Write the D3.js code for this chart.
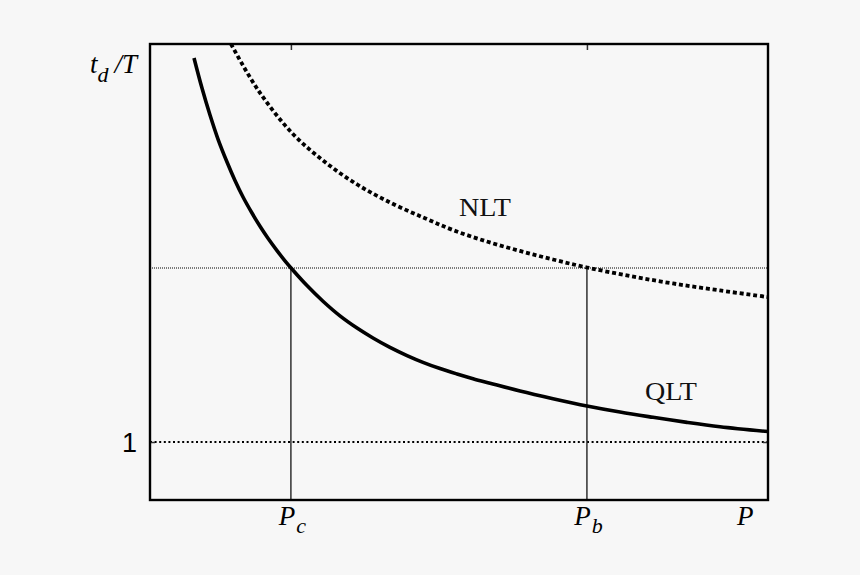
<!DOCTYPE html>
<html><head><meta charset="utf-8">
<script src="https://cdn.jsdelivr.net/npm/d3@7"></script>
<style>
html,body{margin:0;padding:0;background:#f7f7f7;}
svg{display:block;}
</style></head>
<body>
<svg id="chart" width="860" height="575"></svg>
<script>
// ---- data ----
const pQLT = [0.712, 0.841, 0.971, 1.100, 1.246, 1.375, 1.505, 1.650, 1.780, 1.909, 2.055, 2.184, 2.282,
              2.540, 2.799, 3.074, 3.350, 3.608, 3.883, 4.159, 4.417, 4.693, 4.968, 5.227, 5.502,
              5.987, 6.521, 7.071, 7.605, 8.139, 8.689, 9.223, 10.0];
const tQLT = [3.207, 3.034, 2.879, 2.741, 2.609, 2.503, 2.408, 2.316, 2.240, 2.171, 2.100, 2.041, 2.000,
              1.899, 1.809, 1.725, 1.655, 1.598, 1.544, 1.497, 1.458, 1.422, 1.391, 1.364, 1.338,
              1.293, 1.249, 1.207, 1.172, 1.142, 1.113, 1.088, 1.060];
const pNLT = [1.311, 1.748, 2.298, 2.832, 3.366, 3.916, 4.450, 4.903, 5.453, 5.987, 6.521,
              7.071, 7.767, 8.463, 9.223, 10.0];
const tNLT = [3.287, 3.023, 2.776, 2.609, 2.477, 2.371, 2.286, 2.218, 2.152, 2.098, 2.049,
              2.003, 1.954, 1.911, 1.871, 1.833];
const xTicks = [2.28, 7.07];          // P_c, P_b
const xTickSubs = ["c", "b"];
const yTicks = [1];
const yTickLabels = ["1"];
const threshold = 2;
const xDomain = [0, 10];
const yDomain = [0.6667, 3.2874];

// ---- layout ----
const svg = d3.select("#chart");
const L = 150, R = 768, T = 44, B = 500;
const x = d3.scaleLinear().domain(xDomain).range([L, R]);
const y = d3.scaleLinear().domain(yDomain).range([B, T]);

svg.append("rect").attr("width", 860).attr("height", 575).attr("fill", "#f7f7f7");

svg.append("clipPath").attr("id", "clip")
  .append("rect").attr("x", L).attr("y", T).attr("width", R - L).attr("height", B - T);

const plot = svg.append("g").attr("clip-path", "url(#clip)");

// threshold (fine dotted) line
plot.append("line")
  .attr("x1", L).attr("x2", R).attr("y1", y(threshold)).attr("y2", y(threshold))
  .attr("stroke", "#000").attr("stroke-width", 1).attr("stroke-dasharray", "1,1");

// level 1 (coarser dotted) line
plot.append("line")
  .attr("x1", L).attr("x2", R).attr("y1", y(1)).attr("y2", y(1))
  .attr("stroke", "#000").attr("stroke-width", 2).attr("stroke-dasharray", "2,2.6");

// verticals at P_c, P_b
plot.selectAll("line.v").data(xTicks).enter().append("line")
  .attr("class", "v")
  .attr("x1", d => x(d)).attr("x2", d => x(d))
  .attr("y1", y(threshold)).attr("y2", B)
  .attr("stroke", "#222").attr("stroke-width", 1.4);

const line = d3.line().x(d => x(d[0])).y(d => y(d[1])).curve(d3.curveCatmullRom.alpha(0.5));

plot.append("path")
  .datum(pNLT.map((p, i) => [p, tNLT[i]]))
  .attr("d", line).attr("fill", "none")
  .attr("stroke", "#000").attr("stroke-width", 3.8).attr("stroke-dasharray", "4,2.8");

plot.append("path")
  .datum(pQLT.map((p, i) => [p, tQLT[i]]))
  .attr("d", line).attr("fill", "none")
  .attr("stroke", "#000").attr("stroke-width", 3.6);

// axes with inward ticks
const gTop = svg.append("g").attr("transform", `translate(0,${T})`)
  .call(d3.axisTop(x).tickValues(xTicks).tickSizeInner(-6).tickSizeOuter(0).tickFormat(""));
const gBot = svg.append("g").attr("transform", `translate(0,${B})`)
  .call(d3.axisBottom(x).tickValues(xTicks).tickSizeInner(0).tickSizeOuter(0));
const gLeft = svg.append("g").attr("transform", `translate(${L},0)`)
  .call(d3.axisLeft(y).tickValues(yTicks).tickSizeInner(-5).tickSizeOuter(0).tickPadding(14)
    .tickFormat((d, i) => yTickLabels[i]));
const gRight = svg.append("g").attr("transform", `translate(${R},0)`)
  .call(d3.axisRight(y).tickValues(yTicks).tickSizeInner(-5).tickSizeOuter(0).tickFormat(""));

[gTop, gBot, gLeft, gRight].forEach(g => {
  g.select(".domain").remove();
  g.selectAll(".tick line").attr("stroke", "#333").attr("stroke-width", 1.5);
});

gLeft.selectAll(".tick text")
  .attr("font-family", "'Liberation Sans', Arial, sans-serif")
  .attr("font-size", 27).attr("fill", "#000").attr("dy", "0.36em").attr("x", -13);

gBot.selectAll(".tick text").each(function (d, i) {
  const t = d3.select(this);
  t.text(null)
    .attr("font-family", "'Liberation Serif', 'Times New Roman', serif")
    .attr("font-style", "italic").attr("font-size", 27).attr("fill", "#000")
    .attr("text-anchor", "middle").attr("x", 1).attr("y", 25).attr("dy", 0);
  t.append("tspan").text("P");
  t.append("tspan").attr("font-size", 22).attr("dx", 1).attr("dy", 8).text(xTickSubs[i]);
});

// frame
svg.append("rect").attr("x", L).attr("y", T).attr("width", R - L).attr("height", B - T)
  .attr("fill", "none").attr("stroke", "#000").attr("stroke-width", 2.4);

// axis titles
svg.append("text").attr("x", 737).attr("y", 525)
  .attr("font-family", "'Liberation Serif', 'Times New Roman', serif")
  .attr("font-style", "italic").attr("font-size", 27).attr("fill", "#000").text("P");

const yt = svg.append("text").attr("x", 90).attr("y", 73)
  .attr("font-family", "'Liberation Serif', 'Times New Roman', serif")
  .attr("font-style", "italic").attr("font-size", 27).attr("fill", "#000");
yt.append("tspan").text("t");
yt.append("tspan").attr("font-size", 22).attr("dy", 9).text("d");
yt.append("tspan").attr("dy", -9).attr("dx", 6).text("/T");

// curve labels
svg.append("text").attr("x", 459).attr("y", 216)
  .attr("font-family", "'Liberation Serif', 'Times New Roman', serif")
  .attr("font-size", 26).attr("fill", "#111").attr("textLength", 52).attr("lengthAdjust", "spacingAndGlyphs").text("NLT");
svg.append("text").attr("x", 645).attr("y", 400)
  .attr("font-family", "'Liberation Serif', 'Times New Roman', serif")
  .attr("font-size", 26).attr("fill", "#111").attr("textLength", 52).attr("lengthAdjust", "spacingAndGlyphs").text("QLT");
</script>
</body></html>
